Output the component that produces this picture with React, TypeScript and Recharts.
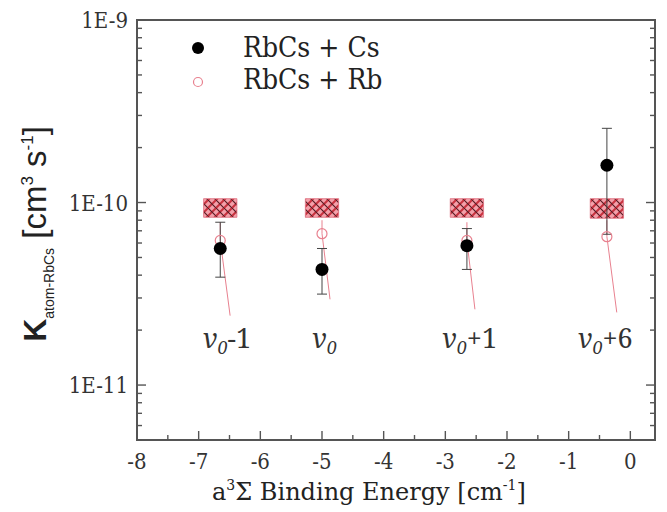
import React from "react";
import {
  ComposedChart,
  XAxis,
  YAxis,
  Scatter,
  Line,
  ErrorBar,
  ReferenceArea,
} from "recharts";

// ---------- data ----------
const clusterX = [-6.65, -5.0, -2.65, -0.38];
const csRate = [5.6e-11, 4.3e-11, 5.8e-11, 1.6e-10];
const csLow = [3.9e-11, 3.15e-11, 4.3e-11, 6.7e-11];
const csHigh = [7.8e-11, 5.6e-11, 7.2e-11, 2.55e-10];

const rbRate = [6.2e-11, 6.75e-11, 6.2e-11, 6.5e-11];
const rbHigh = [7.8e-11, 8.0e-11, 7.8e-11, 8.0e-11];
const rbTailX = [-6.49, -4.87, -2.52, -0.22];
const rbTailY = [2.4e-11, 2.95e-11, 2.6e-11, 2.5e-11];

const boxLow = [8.3e-11, 8.3e-11, 8.3e-11, 8.2e-11];
const boxHigh = [1.05e-10, 1.05e-10, 1.05e-10, 1.05e-10];
const boxHalfWidth = 0.27;

const stateLabelX = [-6.93, -5.16, -3.05, -0.85];
const stateLabelY = 1.6e-11;
const stateSuffix = ["-1", "", "+1", "+6"];

const xTicks = [-8, -7.5, -7, -6.5, -6, -5.5, -5, -4.5, -4, -3.5, -3, -2.5, -2, -1.5, -1, -0.5, 0];
const yMajor = [1e-11, 1e-10, 1e-9];
const yTicks = [
  5e-12, 6e-12, 7e-12, 8e-12, 9e-12, 1e-11,
  2e-11, 3e-11, 4e-11, 5e-11, 6e-11, 7e-11, 8e-11, 9e-11, 1e-10,
  2e-10, 3e-10, 4e-10, 5e-10, 6e-10, 7e-10, 8e-10, 9e-10, 1e-9,
];

// ---------- derived tables ----------
const csData = clusterX.map((x, i) => ({
  x,
  y: csRate[i],
  err: [csRate[i] - csLow[i], csHigh[i] - csRate[i]],
}));
const rbData = clusterX.map((x, i) => ({ x, y: rbRate[i] }));
const rbLines = clusterX.map((x, i) => [
  { x, y: rbHigh[i] },
  { x, y: rbRate[i] },
  { x: rbTailX[i], y: rbTailY[i] },
]);
const labelData = stateLabelX.map((x, i) => ({ x, y: stateLabelY, suffix: stateSuffix[i] }));

// ---------- layout ----------
const W = 667;
const H = 512;
const PL = 137;
const PR = 655;
const PT = 20;
const PB = 440;
const AXIS = "#555";
const SERIF_C = "DejaVu Serif Condensed, DejaVu Serif, serif";
const SERIF = "DejaVu Serif, serif";
const SANS = "Liberation Sans, Arial, sans-serif";
const PINK = "#e8818f";

const isMajorY = (v: number) => yMajor.some((m) => Math.abs(m - v) / m < 1e-6);
const fmtY = (v: number) => `1E${Math.round(Math.log10(v))}`;

const LeftTick = (props: any) => {
  const { y, payload } = props;
  const major = isMajorY(payload.value);
  return (
    <g>
      <line x1={PL} x2={PL + (major ? 9 : 5)} y1={y} y2={y} stroke={AXIS} strokeWidth={1.4} />
      {major && (
        <text x={PL - 9} y={y} dy={8} textAnchor="end" fontFamily={SERIF_C} fontSize={22} fill="#333">
          {fmtY(payload.value)}
        </text>
      )}
    </g>
  );
};

const RightTick = (props: any) => {
  const { y, payload } = props;
  const major = isMajorY(payload.value);
  return <line x1={PR} x2={PR - (major ? 9 : 5)} y1={y} y2={y} stroke={AXIS} strokeWidth={1.4} />;
};

const BottomTick = (props: any) => {
  const { x, payload } = props;
  const v = payload.value;
  const major = Number.isInteger(v);
  return (
    <g>
      <line x1={x} x2={x} y1={PB} y2={PB - (major ? 9 : 5)} stroke={AXIS} strokeWidth={1.4} />
      {major && (
        <text x={x} y={PB + 29} textAnchor="middle" fontFamily={SERIF_C} fontSize={22} fill="#333">
          {String(v)}
        </text>
      )}
    </g>
  );
};

const BlackDot = (props: any) => {
  const { cx, cy } = props;
  return <circle cx={cx} cy={cy} r={6.5} fill="#000" />;
};

const PinkCircle = (props: any) => {
  const { cx, cy } = props;
  return <circle cx={cx} cy={cy} r={5} fill="none" stroke={PINK} strokeWidth={1.2} />;
};

const StateLabel = (props: any) => {
  const { cx, cy, payload } = props;
  return (
    <text x={cx} y={cy} fontFamily="Noto Serif, DejaVu Serif, serif" fontSize={27} fill="#333">
      <tspan fontStyle="italic">v</tspan>
      <tspan fontStyle="italic" fontSize={18} dy={6}>0</tspan>
      <tspan dy={-6}>{payload.suffix}</tspan>
    </text>
  );
};

export default function App() {
  return (
    <div style={{ position: "absolute", left: 0, top: 0, background: "#fff" }}>
      <ComposedChart
        width={W}
        height={H}
        margin={{ top: PT, right: 0, bottom: 0, left: 0 }}
      >
        <defs>
          <pattern id="hatch" width="8" height="8" patternUnits="userSpaceOnUse">
            <rect width="8" height="8" fill="#f3a0aa" />
            <path d="M0,8 L8,0" stroke="#c8323f" strokeWidth={2} />
            <path d="M0,0 L8,8" stroke="#5a1a22" strokeWidth={1.2} />
          </pattern>
        </defs>
        <XAxis
          type="number"
          dataKey="x"
          domain={[-8, 0.4]}
          ticks={xTicks}
          interval={0}
          height={H - PB}
          axisLine={{ stroke: AXIS, strokeWidth: 2 }}
          tickLine={false}
          tick={<BottomTick />}
          allowDataOverflow
        />
        <YAxis
          yAxisId="left"
          type="number"
          scale="log"
          domain={[5e-12, 1e-9]}
          ticks={yTicks}
          interval={0}
          width={PL}
          axisLine={{ stroke: AXIS, strokeWidth: 2 }}
          tickLine={false}
          tick={<LeftTick />}
          allowDataOverflow
        />
        <YAxis
          yAxisId="right"
          orientation="right"
          type="number"
          scale="log"
          domain={[5e-12, 1e-9]}
          ticks={yTicks}
          interval={0}
          width={W - PR}
          axisLine={{ stroke: AXIS, strokeWidth: 2 }}
          tickLine={false}
          tick={<RightTick />}
          allowDataOverflow
        />
        <ReferenceArea
          yAxisId="left"
          x1={-8}
          x2={0.4}
          y1={5e-12}
          y2={1e-9}
          fill="none"
          stroke={AXIS}
          strokeWidth={2}
          fillOpacity={0}
        />
        {clusterX.map((x, i) => (
          <ReferenceArea
            key={"box" + i}
            yAxisId="left"
            x1={x - boxHalfWidth}
            x2={x + boxHalfWidth}
            y1={boxLow[i]}
            y2={boxHigh[i]}
            fill="url(#hatch)"
            fillOpacity={1}
            stroke="#e07080"
            strokeWidth={0.8}
          />
        ))}
        {rbLines.map((seg, i) => (
          <Line
            key={"rbl" + i}
            yAxisId="left"
            data={seg}
            dataKey="y"
            type="linear"
            stroke={PINK}
            strokeWidth={1}
            dot={false}
            isAnimationActive={false}
            legendType="none"
          />
        ))}
        <Scatter
          yAxisId="left"
          data={rbData}
          dataKey="y"
          shape={<PinkCircle />}
          isAnimationActive={false}
        />
        <Scatter
          yAxisId="left"
          data={csData}
          dataKey="y"
          shape={<BlackDot />}
          isAnimationActive={false}
        >
          <ErrorBar dataKey="err" direction="y" width={5} stroke="#444" strokeWidth={1} />
        </Scatter>
        <Scatter
          yAxisId="left"
          data={labelData}
          dataKey="y"
          shape={<StateLabel />}
          isAnimationActive={false}
        />
        {/* legend */}
        <g>
          <circle cx={198} cy={48} r={6} fill="#000" />
          <text x={243} y={57} fontFamily={SERIF_C} fontSize={28} fill="#222">RbCs + Cs</text>
          <circle cx={198} cy={82} r={4.5} fill="none" stroke={PINK} strokeWidth={1.2} />
          <text x={243} y={89} fontFamily={SERIF_C} fontSize={28} fill="#222">RbCs + Rb</text>
        </g>
        {/* x title */}
        <text x={212} y={500} fontFamily={SERIF} fontSize={24} fill="#222">
          <tspan>a</tspan>
          <tspan fontSize={14} dy={-10}>3</tspan>
          <tspan dy={10}>Σ Binding Energy [cm</tspan>
          <tspan fontSize={14} dy={-10}>-1</tspan>
          <tspan dy={10}>]</tspan>
        </text>
        {/* y title */}
        <text
          x={46}
          y={234}
          transform="rotate(-90, 46, 234)"
          textAnchor="middle"
          fontFamily={SANS}
          fontSize={33}
          fill="#222"
        >
          <tspan fontWeight="bold" fontSize={32}>K</tspan>
          <tspan fontSize={14} dy={8}>atom-RbCs</tspan>
          <tspan dy={-8}> [cm</tspan>
          <tspan fontSize={17} dy={-13}>3</tspan>
          <tspan dy={13}> s</tspan>
          <tspan fontSize={17} dy={-13}>-1</tspan>
          <tspan dy={13}>]</tspan>
        </text>
      </ComposedChart>
    </div>
  );
}
